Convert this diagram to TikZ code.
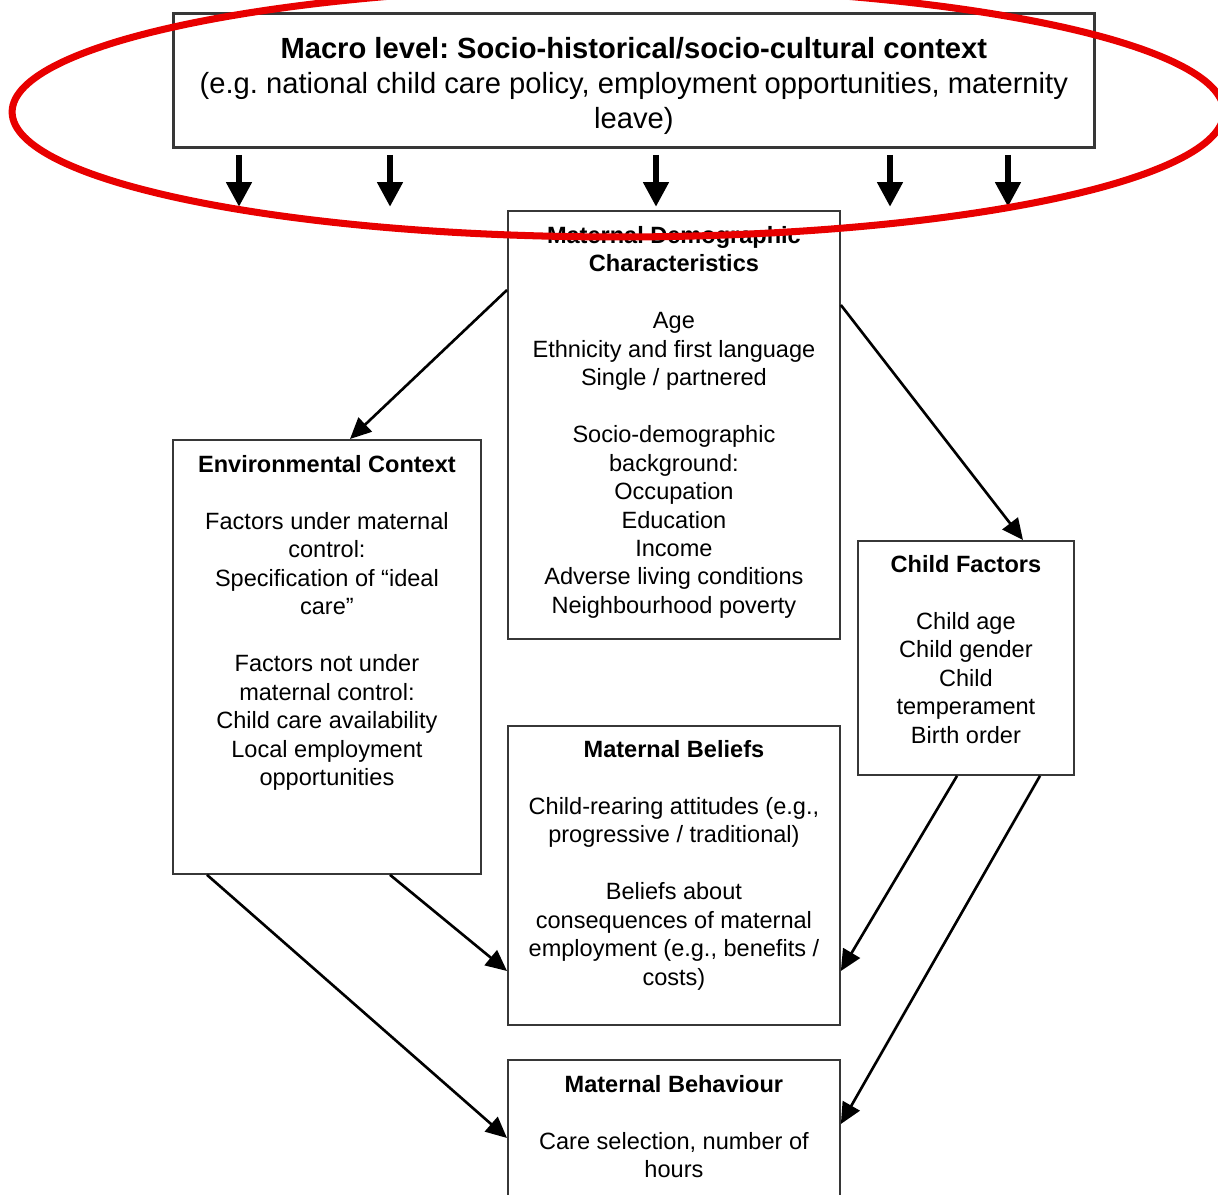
\documentclass[tikz,border=0pt]{standalone}
\usepackage{fontspec}
\setmainfont{Liberation Sans}
\frenchspacing
\usetikzlibrary{arrows.meta,calc}
\definecolor{ringred}{RGB}{232,0,0}
\definecolor{framegray}{RGB}{55,55,55}
\tikzset{
  box/.style={draw=framegray, line width=1.1pt, anchor=north west, inner sep=0pt},
  boxtext/.style={anchor=north, align=center, inner sep=0pt, font=\fontsize{13.4}{16.2}\selectfont},
  macrotext/.style={boxtext, font=\fontsize{16.6}{19.8}\selectfont},
  downarrow/.style={line width=3.2pt, -{Triangle[length=14pt,width=14pt]}},
  linkarrow/.style={line width=1.5pt, -{Triangle[length=12pt,width=11pt]}},
  ringline/.style={draw=ringred, line width=4pt},
}

\begin{document}
\begin{tikzpicture}[x=0.02cm,y=-0.02cm]
\useasboundingbox (0,0) rectangle (1218,1195);
\clip (0,0) rectangle (1218,1195);
% boxes
\node[box, line width=1.6pt, minimum width=18.42cm, minimum height=2.68cm] (macro) at (172,12) {};
\node[box, minimum width=6.64cm, minimum height=8.56cm] (demo) at (507,210) {};
\node[box, minimum width=6.16cm, minimum height=8.68cm] (env) at (172,439) {};
\node[box, minimum width=4.32cm, minimum height=4.68cm] (child) at (857,540) {};
\node[box, minimum width=6.64cm, minimum height=5.98cm] (beliefs) at (507,725) {};
\node[box, minimum width=6.64cm, minimum height=3.0cm] (behav) at (507,1059) {};
% texts
\node[macrotext] (macrotxt) at ($(macro.north)+(0,25)$)
  {\textbf{Macro level: Socio-historical/socio-cultural context}\\(e.g. national child care policy, employment opportunities, maternity\\leave)};
\node[boxtext] (demotxt) at ($(demo.north)+(0,16)$)
  {\textbf{Maternal Demographic}\\\textbf{Characteristics}\\[16.2pt]Age\\Ethnicity and first language\\Single / partnered\\[16.2pt]Socio-demographic\\background:\\Occupation\\Education\\Income\\Adverse living conditions\\Neighbourhood poverty};
\node[boxtext] (envtxt) at ($(env.north)+(0,16)$)
  {\textbf{Environmental Context}\\[16.2pt]Factors under maternal\\control:\\Specification of ``ideal\\care''\\[16.2pt]Factors not under\\maternal control:\\Child care availability\\Local employment\\opportunities};
\node[boxtext] (childtxt) at ($(child.north)+(0,15)$)
  {\textbf{Child Factors}\\[16.2pt]Child age\\Child gender\\Child\\temperament\\Birth order};
\node[boxtext] (beliefstxt) at ($(beliefs.north)+(0,15)$)
  {\textbf{Maternal Beliefs}\\[16.2pt]Child-rearing attitudes (e.g.,\\progressive / traditional)\\[16.2pt]Beliefs about\\consequences of maternal\\employment (e.g., benefits /\\costs)};
\node[boxtext] (behavtxt) at ($(behav.north)+(0,16)$)
  {\textbf{Maternal Behaviour}\\[16.2pt]Care selection, number of\\hours};
% arrows
\foreach \dx in {67,218,484,718,836}
  \draw[downarrow] ($(macro.south west)+(\dx,6)$) -- ++(0,52);
\draw[linkarrow] ($(demo.north west)+(0,80)$) -- ($(env.north west)+(178,0)$);
\draw[linkarrow] ($(demo.north east)+(0,95)$) -- ($(child.north west)+(166,0)$);
\draw[linkarrow] ($(env.south west)+(218,0)$) -- ($(beliefs.north west)+(0,246)$);
\draw[linkarrow] ($(env.south west)+(35,0)$) -- ($(behav.north west)+(0,79)$);
\draw[linkarrow] ($(child.south west)+(100,0)$) -- ($(beliefs.north east)+(0,246)$);
\draw[linkarrow] ($(child.south west)+(183,0)$) -- ($(behav.north east)+(0,65)$);
% red ring
\draw[ringline] (618,112) ellipse [x radius=12.12cm, y radius=2.5cm];
\end{tikzpicture}
\end{document}
